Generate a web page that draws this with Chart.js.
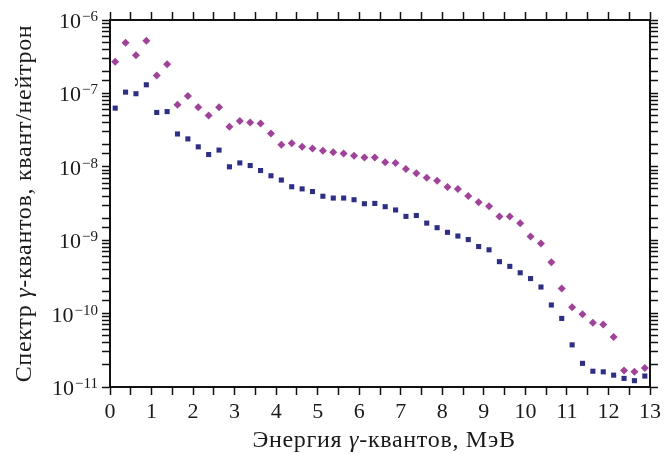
<!DOCTYPE html>
<html>
<head>
<meta charset="utf-8">
<script src="https://cdn.jsdelivr.net/npm/chart.js@4.4.1/dist/chart.umd.min.js"></script>
<style>
  body { margin: 0; background: #fff; }
  #caixa { width: 665px; height: 454px; }
</style>
</head>
<body>
<div id="caixa"><canvas id="grafico"></canvas></div>
<script>
// energia (centro do bin), MeV
const energia = [
  0.125, 0.375, 0.625, 0.875, 1.125, 1.375, 1.625, 1.875, 2.125, 2.375,
  2.625, 2.875, 3.125, 3.375, 3.625, 3.875, 4.125, 4.375, 4.625, 4.875,
  5.125, 5.375, 5.625, 5.875, 6.125, 6.375, 6.625, 6.875, 7.125, 7.375,
  7.625, 7.875, 8.125, 8.375, 8.625, 8.875, 9.125, 9.375, 9.625, 9.875,
  10.125, 10.375, 10.625, 10.875, 11.125, 11.375, 11.625, 11.875, 12.125, 12.375,
  12.625, 12.875
];

// serie superior (losangos)
const serieRosa = [
  2.7e-7, 4.9e-7, 3.3e-7, 5.2e-7, 1.75e-7, 2.5e-7, 7.0e-8, 9.2e-8, 6.5e-8, 5.0e-8,
  6.5e-8, 3.5e-8, 4.2e-8, 4.0e-8, 3.9e-8, 2.85e-8, 2.0e-8, 2.1e-8, 1.87e-8, 1.77e-8,
  1.65e-8, 1.58e-8, 1.52e-8, 1.41e-8, 1.34e-8, 1.34e-8, 1.15e-8, 1.13e-8, 9.3e-9, 8.2e-9,
  7.1e-9, 6.45e-9, 5.3e-9, 5.0e-9, 4.0e-9, 3.3e-9, 2.9e-9, 2.1e-9, 2.1e-9, 1.7e-9,
  1.12e-9, 9.0e-10, 5.0e-10, 2.2e-10, 1.22e-10, 9.8e-11, 7.5e-11, 7.1e-11, 4.8e-11, 1.68e-11,
  1.61e-11, 1.82e-11
];

// serie inferior (quadrados)
const serieAzul = [
  6.3e-8, 1.04e-7, 9.9e-8, 1.31e-7, 5.5e-8, 5.65e-8, 2.8e-8, 2.4e-8, 1.87e-8, 1.47e-8,
  1.69e-8, 1.0e-8, 1.13e-8, 1.04e-8, 8.9e-9, 7.55e-9, 6.6e-9, 5.35e-9, 5.0e-9, 4.6e-9,
  3.97e-9, 3.75e-9, 3.75e-9, 3.56e-9, 3.14e-9, 3.17e-9, 2.86e-9, 2.58e-9, 2.11e-9, 2.17e-9,
  1.71e-9, 1.48e-9, 1.28e-9, 1.14e-9, 1.02e-9, 8.2e-10, 7.4e-10, 5.1e-10, 4.4e-10, 3.6e-10,
  3.0e-10, 2.3e-10, 1.31e-10, 8.6e-11, 3.75e-11, 2.1e-11, 1.64e-11, 1.61e-11, 1.45e-11, 1.31e-11,
  1.22e-11, 1.41e-11
];

// rotulos do eixo y: 10^expoente
const ticksY = [1e-6, 1e-7, 1e-8, 1e-9, 1e-10, 1e-11];
const expoentes = ['6', '7', '8', '9', '10', '11'];

const FONTE = '"Liberation Serif", "DejaVu Serif", serif';
const COR_TEXTO = '#1a1a1a';

// desenha os rotulos com expoente e os titulos dos eixos
const rotulos = {
  id: 'rotulos',
  afterDraw(chart) {
    const ctx = chart.ctx;
    const y = chart.scales.y;
    const area = chart.chartArea;
    ctx.save();
    ctx.fillStyle = COR_TEXTO;
    ctx.textBaseline = 'alphabetic';
    ctx.textAlign = 'left';

    ticksY.forEach((v, i) => {
      const py = y.getPixelForValue(v);
      ctx.font = '15px ' + FONTE;
      const expo = '\u2212' + expoentes[i];
      const we = ctx.measureText(expo).width;
      ctx.font = '22px ' + FONTE;
      const wb = ctx.measureText('10').width;
      const xfim = 98;
      ctx.fillText('10', xfim - we - wb - 1, py + 8);
      ctx.font = '15px ' + FONTE;
      ctx.fillText(expo, xfim - we, py + 1);
    });

    // texto com gama em italico
    ctx.letterSpacing = '0.7px';
    function textoMisto(partes, cx, cy) {
      let total = 0;
      partes.forEach(p => {
        ctx.font = (p.it ? 'italic ' : '') + '24px ' + FONTE;
        p.w = ctx.measureText(p.t).width;
        total += p.w;
      });
      let x = cx - total / 2;
      partes.forEach(p => {
        ctx.font = (p.it ? 'italic ' : '') + '24px ' + FONTE;
        ctx.fillText(p.t, x, cy);
        x += p.w;
      });
    }

    // titulo x
    textoMisto([
      { t: 'Энергия ' }, { t: 'γ', it: true }, { t: '-квантов, МэВ' }
    ], (area.left + area.right) / 2 + 4, 447);

    // titulo y
    ctx.translate(31, (area.top + area.bottom) / 2);
    ctx.rotate(-Math.PI / 2);
    textoMisto([
      { t: 'Спектр ' }, { t: 'γ', it: true }, { t: '-квантов, квант/нейтрон' }
    ], 0, 0);
    ctx.restore();
  }
};

const eixoBorda = { display: true, color: '#111', width: 2 };
const gradeFora = { drawOnChartArea: false, drawTicks: true, tickLength: 8, tickColor: '#111', tickWidth: 1.5 };

const ctx = document.getElementById('grafico').getContext('2d');
new Chart(ctx, {
  type: 'scatter',
  data: {
    datasets: [
      {
        label: 'rosa',
        data: energia.map((e, i) => ({ x: e, y: serieRosa[i] })),
        pointStyle: 'rectRot',
        pointRadius: 4,
        pointHoverRadius: 4,
        backgroundColor: '#a3409b',
        borderColor: '#a3409b',
        borderWidth: 0
      },
      {
        label: 'azul',
        data: energia.map((e, i) => ({ x: e, y: serieAzul[i] })),
        pointStyle: 'rect',
        pointRadius: 3.6,
        pointHoverRadius: 3.6,
        backgroundColor: '#2d2d8c',
        borderColor: '#2d2d8c',
        borderWidth: 0
      }
    ]
  },
  options: {
    responsive: true,
    maintainAspectRatio: false,
    animation: false,
    layout: { padding: 0 },
    plugins: { legend: { display: false }, tooltip: { enabled: false } },
    scales: {
      x: {
        type: 'linear', position: 'bottom', min: 0, max: 13,
        border: eixoBorda,
        grid: gradeFora,
        ticks: {
          stepSize: 0.5, autoSkip: false, maxRotation: 0, padding: 4,
          color: COR_TEXTO, font: { family: FONTE, size: 22 },
          callback: v => Number.isInteger(v) ? String(v) : ''
        },
        afterFit: s => { s.height = 67; }
      },
      x2: {
        type: 'linear', position: 'top', min: 0, max: 13,
        border: eixoBorda,
        grid: gradeFora,
        ticks: { display: false, stepSize: 0.5 },
        afterFit: s => { s.height = 20; }
      },
      y: {
        type: 'logarithmic', position: 'left', min: 1e-11, max: 1e-6,
        border: eixoBorda,
        grid: gradeFora,
        ticks: { display: false, callback: () => '' },
        afterFit: s => { s.width = 110; }
      },
      y2: {
        type: 'logarithmic', position: 'right', min: 1e-11, max: 1e-6,
        border: eixoBorda,
        grid: gradeFora,
        ticks: { display: false, callback: () => '' },
        afterFit: s => { s.width = 13; }
      }
    }
  },
  plugins: [rotulos]
});
</script>
</body>
</html>
